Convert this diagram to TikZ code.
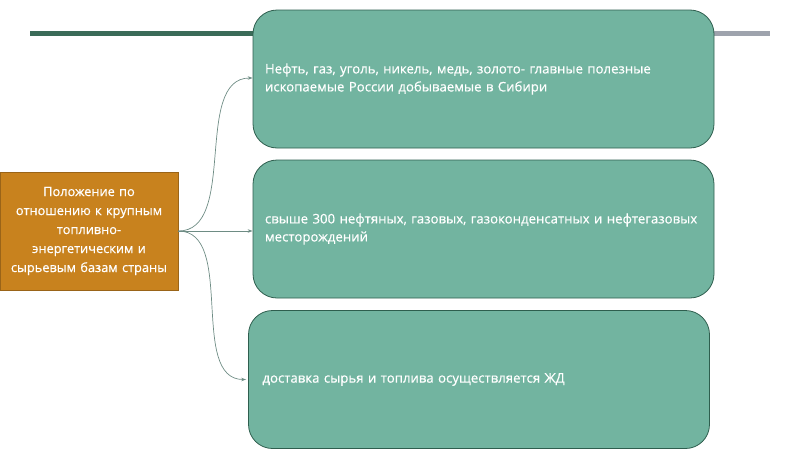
\documentclass[tikz,border=0pt]{standalone}
\usepackage{fontspec}
\setmainfont{Open Sans}[FakeBold=0.5]
\usepackage{xcolor}
\usetikzlibrary{positioning,arrows.meta}

\definecolor{boxgreen}{HTML}{72B4A0}
\definecolor{boxedge}{HTML}{2E5E4E}
\definecolor{mainorange}{HTML}{C8821E}
\definecolor{orangeedge}{HTML}{9A6418}
\definecolor{bardark}{HTML}{3B6B58}
\definecolor{bargray}{HTML}{9EA3AD}
\definecolor{linkgray}{HTML}{6E8C84}

\tikzset{
  factbox/.style={draw=boxedge, line width=0.8pt, fill=boxgreen, rounded corners=24pt,
    minimum width=461pt, minimum height=138pt, text width=442pt, inner xsep=9.5pt,
    align=left, text=white, font=\fontsize{13.2}{18}\selectfont},
  mainbox/.style={draw=orangeedge, line width=0.8pt, fill=mainorange,
    minimum width=178pt, minimum height=118pt, text width=174pt, inner xsep=2pt,
    align=center, text=white, font=\fontsize{12.8}{19}\selectfont},
  link/.style={draw=linkgray, line width=0.7pt, -{Stealth[length=5pt,width=3.5pt]}}
}

\begin{document}
\begin{tikzpicture}[x=1pt,y=-1pt]

\useasboundingbox (0,0) rectangle (800,450);

% top bar
\fill[bardark] (30,31) rectangle (500,36);
\fill[bargray] (500,31) rectangle (770,36);

\node[mainbox] (pos) at (89,231) {Положение по\\отношению к крупным\\топливно-\\энергетическим и\\сырьевым базам страны};

\node[factbox] (fuel) at (483.5,79) {\hspace*{2.5pt}Нефть, газ, уголь, никель, медь, золото- главные полезные\\\hspace*{2.5pt}ископаемые России добываемые в Сибири};
\node[factbox] (fields) at (483.5,229) {\hspace*{2.5pt}свыше 300 нефтяных, газовых, газоконденсатных и нефтегазовых\\\hspace*{2.5pt}месторождений};
\node[factbox] (rail) at (479,379.5) {\hspace*{4.5pt}доставка сырья и топлива осуществляется ЖД};

\draw[link] (pos.east) to[out=0,in=180,looseness=0.9] ([yshift=1pt]fuel.west);
\draw[link] (pos.east) -- (pos.east -| fields.west);
\draw[link] (pos.east) to[out=0,in=180,looseness=0.9] ([xshift=-2pt]rail.west);

\end{tikzpicture}
\end{document}
